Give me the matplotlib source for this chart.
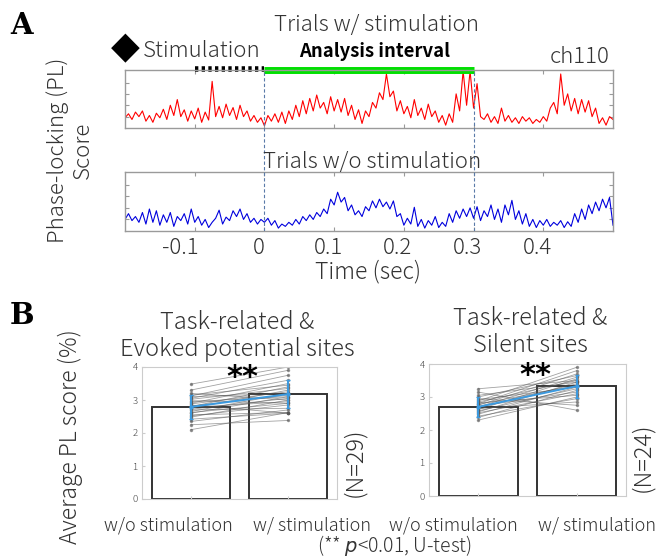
import numpy as np
import matplotlib
matplotlib.use("Agg")
import matplotlib.pyplot as plt
from matplotlib.transforms import blended_transform_factory

plt.rcParams['font.family'] = ['Noto Sans CJK JP', 'DejaVu Sans']
plt.rcParams['font.weight'] = 'light'

# ---- panel A: phase-locking traces (5 ms steps from -0.2 s to 0.5 s) ----
t_start = -0.2
t_step = 0.005
pl_stim = [0.18, 0.25, 0.15, 0.28, 0.20, 0.30, 0.12, 0.22, 0.10, 0.26,
           0.18, 0.33, 0.15, 0.40, 0.22, 0.50, 0.20, 0.32, 0.12, 0.30,
           0.16, 0.35, 0.10, 0.28, 0.14, 0.82, 0.20, 0.38, 0.18, 0.42,
           0.22, 0.36, 0.15, 0.40, 0.20, 0.30, 0.12, 0.22, 0.10, 0.18,
           0.04, 0.22, 0.12, 0.25, 0.10, 0.28, 0.08, 0.30, 0.15, 0.40,
           0.20, 0.48, 0.25, 0.52, 0.30, 0.58, 0.35, 0.45, 0.25, 0.55,
           0.30, 0.50, 0.28, 0.52, 0.22, 0.40, 0.15, 0.32, 0.08, 0.30,
           0.20, 0.45, 0.35, 0.62, 0.50, 0.95, 0.55, 0.65, 0.30, 0.48,
           0.25, 0.38, 0.18, 0.50, 0.22, 0.35, 0.15, 0.42, 0.20, 0.30,
           0.10, 0.22, 0.05, 0.25, 0.10, 0.60, 0.30, 1.00, 0.40, 1.00,
           0.35, 0.78, 0.20, 0.15, 0.25, 0.10, 0.20, 0.08, 0.35, 0.12,
           0.22, 0.10, 0.18, 0.08, 0.20, 0.12, 0.18, 0.08, 0.15, 0.10,
           0.20, 0.12, 0.35, 0.45, 0.25, 0.95, 0.40, 0.60, 0.30, 0.52,
           0.25, 0.50, 0.28, 0.48, 0.20, 0.35, 0.08, 0.18, 0.05, 0.20,
           0.15]
pl_nostim = [0.20, 0.30, 0.18, 0.25, 0.15, 0.32, 0.12, 0.38, 0.15, 0.35,
             0.10, 0.28, 0.15, 0.32, 0.08, 0.25, 0.18, 0.30, 0.12, 0.38,
             0.15, 0.25, 0.10, 0.20, 0.06, 0.15, 0.22, 0.36, 0.12, 0.24,
             0.18, 0.35, 0.25, 0.38, 0.20, 0.30, 0.15, 0.22, 0.12, 0.20,
             0.15, 0.22, 0.10, 0.18, 0.05, 0.12, 0.08, 0.15, 0.10, 0.20,
             0.12, 0.25, 0.18, 0.28, 0.20, 0.32, 0.25, 0.38, 0.30, 0.55,
             0.45, 0.67, 0.50, 0.58, 0.35, 0.45, 0.28, 0.35, 0.25, 0.42,
             0.35, 0.52, 0.40, 0.55, 0.42, 0.50, 0.38, 0.52, 0.25, 0.30,
             0.10, 0.22, 0.12, 0.41, 0.08, 0.20, 0.05, 0.18, 0.10, 0.25,
             0.06, 0.15, 0.08, 0.30, 0.15, 0.35, 0.22, 0.38, 0.25, 0.40,
             0.22, 0.42, 0.18, 0.35, 0.25, 0.45, 0.20, 0.38, 0.15, 0.45,
             0.28, 0.53, 0.20, 0.35, 0.12, 0.30, 0.08, 0.20, 0.06, 0.18,
             0.10, 0.20, 0.08, 0.15, 0.10, 0.18, 0.06, 0.16, 0.08, 0.30,
             0.15, 0.38, 0.20, 0.45, 0.30, 0.50, 0.35, 0.55, 0.40, 0.58,
             0.10]
time_ticks = [-0.1, 0, 0.1, 0.2, 0.3, 0.4]
time_labels = ["-0.1", "0", "0.1", "0.2", "0.3", "0.4"]
stim_on, stim_off = -0.1, 0.0
analysis_on, analysis_off = 0.0, 0.3

# ---- panel B: average PL score (%) per site ----
conditions = ["w/o stimulation", "w/ stimulation"]
evoked_bars = [2.79, 3.18]
evoked_err = [0.37, 0.42]
evoked_wo = [2.10, 2.25, 2.35, 2.42, 2.48, 2.52, 2.55, 2.60, 2.62, 2.65,
             2.70, 2.72, 2.75, 2.78, 2.80, 2.82, 2.85, 2.88, 2.90, 2.95,
             2.98, 3.02, 3.05, 3.10, 3.12, 3.15, 3.20, 3.30, 3.48]
evoked_w = [2.62, 2.38, 2.70, 2.60, 3.00, 2.85, 2.62, 3.10, 2.90, 3.20,
            2.75, 3.05, 3.30, 2.95, 3.40, 3.15, 2.60, 3.25, 3.50, 3.10,
            2.90, 3.35, 3.60, 3.20, 3.75, 3.45, 3.00, 3.90, 4.00]
silent_bars = [2.70, 3.33]
silent_err = [0.30, 0.35]
silent_wo = [2.30, 2.38, 2.42, 2.48, 2.52, 2.55, 2.58, 2.62, 2.65, 2.68,
             2.70, 2.72, 2.75, 2.78, 2.80, 2.82, 2.85, 2.88, 2.92, 2.95,
             3.00, 3.05, 3.15, 3.25]
silent_w = [3.00, 3.20, 2.95, 3.30, 3.10, 3.45, 3.25, 3.55, 2.85, 3.40,
            3.60, 3.15, 3.70, 3.35, 3.80, 3.05, 3.50, 3.90, 3.30, 2.75,
            3.65, 3.45, 2.60, 3.50]

W, H = 657, 559
fig = plt.figure(figsize=(W / 100, H / 100), dpi=100)


def box(x0, y0, x1, y1):
    # pixel box (top-left origin) -> figure fraction rect
    return [x0 / W, 1 - y1 / H, (x1 - x0) / W, (y1 - y0) / H]


def ftext(x, y, s, **kw):
    kw.setdefault('ha', 'center')
    kw.setdefault('va', 'center')
    kw.setdefault('color', '#333333')
    return fig.text(x / W, 1 - y / H, s, **kw)


frame_col = '#9a9a9a'
t = t_start + t_step * np.arange(len(pl_stim))

ax_r = fig.add_axes(box(125, 70, 613, 128))
ax_b = fig.add_axes(box(125, 172, 613, 231))
for ax, y, col in [(ax_r, pl_stim, '#ff0000'), (ax_b, pl_nostim, '#0000dd')]:
    ax.plot(t, y, color=col, lw=0.8)
    ax.set_xlim(-0.2, 0.5)
    ax.set_ylim(0, 1.02)
    ax.set_xticks(time_ticks)
    ax.set_xticklabels([])
    ax.set_yticks([0.2, 0.4, 0.6, 0.8])
    ax.set_yticklabels([])
    ax.tick_params(direction='in', length=3, color=frame_col, top=True, right=True)
    for sp in ax.spines.values():
        sp.set_color(frame_col)
        sp.set_linewidth(1.0)

# tick labels sit a little left of their ticks in the original
for tv, lab in zip(time_ticks, time_labels):
    px = 125 + (tv + 0.2) / 0.7 * 488
    ftext(px - (14 if tv < 0 else 6), 248, lab, fontsize=16)

# dashed markers for analysis interval, spanning both traces
ax_o = fig.add_axes(box(125, 70, 613, 231), facecolor='none')
ax_o.set_xlim(-0.2, 0.5)
ax_o.set_ylim(0, 1)
ax_o.axis('off')
for xv in [analysis_on, analysis_off]:
    ax_o.axvline(xv, color='#5a7aa8', lw=0.8, ls=(0, (3, 2)))

tr = blended_transform_factory(ax_r.transData, ax_r.transAxes)
ax_r.plot([stim_on, stim_off], [1.02, 1.02], color='black', lw=4,
          ls=(0, (0.6, 0.6)), transform=tr, clip_on=False, solid_capstyle='butt')
ax_r.plot([analysis_on, analysis_off], [1.0, 1.0], color='#00e000', lw=5,
          transform=tr, clip_on=False, solid_capstyle='butt')

ftext(22, 26, "A", fontsize=21, fontweight='bold', family='DejaVu Serif', color='black')
ftext(377, 25, "Trials w/ stimulation", fontsize=16)
ftext(125, 48, "◆", fontsize=27, family=['DejaVu Sans'], fontweight='normal',
      color='black')
ftext(143, 51, "Stimulation", fontsize=16, ha='left')
ftext(375, 52, "Analysis interval", fontsize=13.3, fontweight='bold', color='black')
ftext(610, 57, "ch110", fontsize=16, ha='right')
ftext(372, 162, "Trials w/o stimulation", fontsize=16)
ftext(368, 272, "Time (sec)", fontsize=16.5)
ftext(70, 150, "Phase-locking (PL)\nScore", fontsize=16, rotation=90,
      multialignment='center', linespacing=1.15)

# ---- panel B ----
def pl_panel(rect, bars, err, wo, w, title, n_label, n_x, n_y, title_x, title_y,
             star_y, label_x):
    ax = fig.add_axes(rect)
    xs = np.array([1, 2])
    ax.bar(xs, bars, width=0.8, color='white', edgecolor='#333333', lw=1.4, zorder=1)
    for a, b in zip(wo, w):
        ax.plot(xs, [a, b], color='#555555', lw=0.6, alpha=0.55,
                marker='o', ms=1.5, zorder=2)
    ax.errorbar(xs, bars, yerr=err, color='#3b9ae0', lw=1.4, capsize=1.5,
                marker='o', ms=2, zorder=3)
    ax.set_xlim(0.5, 2.5)
    ax.set_ylim(0, 4)
    ax.set_yticks([0, 1, 2, 3, 4])
    ax.set_xticks(xs)
    ax.set_xticklabels([])
    ax.tick_params(axis='y', direction='in', length=2, labelsize=7,
                   labelcolor='#444444', color='#cccccc', pad=3)
    ax.tick_params(axis='x', direction='in', length=2, color='#cccccc')
    for sp in ax.spines.values():
        sp.set_color('#cccccc')
        sp.set_linewidth(0.8)
    for lx, lab in zip(label_x, conditions):
        ftext(lx, 525, lab, fontsize=13)
    ftext(title_x, title_y, title, fontsize=17, linespacing=1.1)
    ftext(title_x + 5, star_y, "**", fontsize=22, fontweight='bold',
          family=['DejaVu Sans'], color='black')
    ftext(n_x, n_y, n_label, fontsize=17, rotation=90)
    return ax


pl_panel(box(142, 367, 337, 499), evoked_bars, evoked_err, evoked_wo, evoked_w,
         "Task-related &\nEvoked potential sites", "(N=29)", 355, 462, 237, 336, 378,
         [168, 312])
pl_panel(box(429, 364, 626, 496), silent_bars, silent_err, silent_wo, silent_w,
         "Task-related &\nSilent sites", "(N=24)", 643, 457, 530, 332, 375,
         [453, 597])

ftext(22, 315, "B", fontsize=21, fontweight='bold', family='DejaVu Serif', color='black')
ftext(70, 437, "Average PL score (%)", fontsize=16.5, rotation=90)
ftext(395, 546, r"(** $\it{p}$<0.01, U-test)", fontsize=14)

fig.savefig("out.png", dpi=100)
